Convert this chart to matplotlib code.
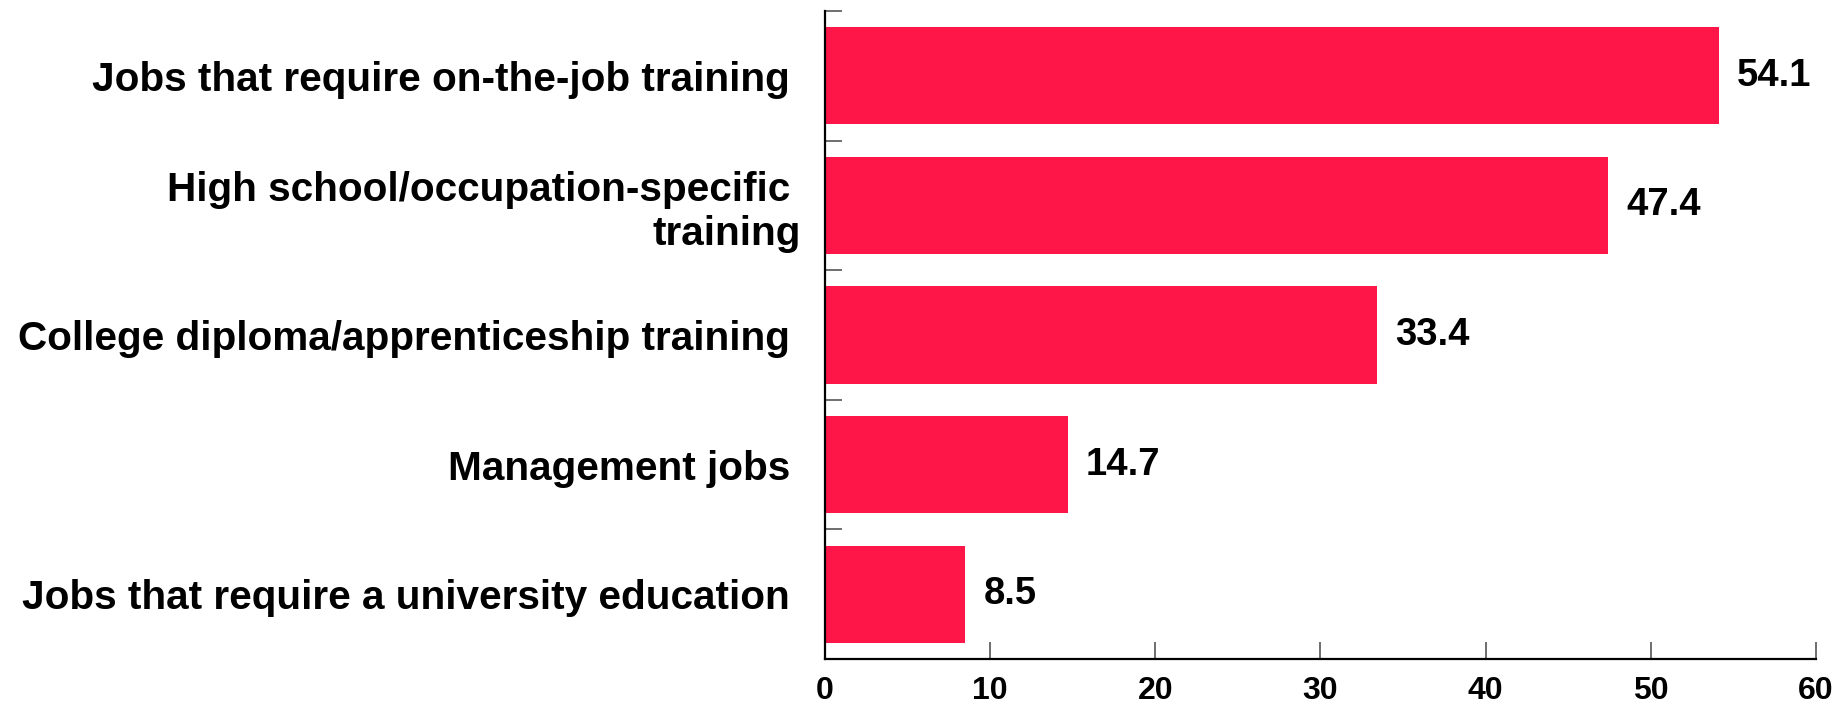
import matplotlib
matplotlib.use("Agg")
import matplotlib.pyplot as plt
import numpy as np

categories = [
    "Jobs that require on-the-job training ",
    "High school/occupation-specific \ntraining",
    "College diploma/apprenticeship training ",
    "Management jobs ",
    "Jobs that require a university education ",
]
values = [54.1, 47.4, 33.4, 14.7, 8.5]
xticks = [0, 10, 20, 30, 40, 50, 60]

plt.rcParams['font.family'] = ['Liberation Sans', 'DejaVu Sans']
plt.rcParams['font.weight'] = 'bold'

fig = plt.figure(figsize=(18.37, 7.05), dpi=100)
ax = fig.add_axes([0.449, 0.0652, 0.5396, 0.9192])

y = np.arange(len(categories))
color = '#FF1648'
ax.barh(y, values, height=0.75, color=color, zorder=2)
ax.set_ylim(len(categories) - 0.5, -0.5)
ax.set_xlim(0, 60)

for yi, v in zip(y, values):
    ax.annotate(f"{v}", xy=(v, yi), xytext=(13, 0), textcoords='offset points',
                ha='left', va='center', fontsize=27.5, fontweight='bold', color='black')

ax.set_yticks(y)
ax.set_yticklabels(categories, fontsize=29.2, fontweight='bold', ha='right',
                   multialignment='right')
ax.tick_params(axis='y', which='major', length=0, pad=17)
ax.set_yticks(np.arange(-0.5, len(categories), 1.0), minor=True)
ax.tick_params(axis='y', which='minor', direction='in', length=12, width=1.2, color='#555555')

ax.set_xticks(xticks)
ax.set_xticklabels([str(t) for t in xticks], fontsize=23, fontweight='bold')
ax.tick_params(axis='x', direction='in', length=12, width=1.2, color='#555555', pad=12)

for s in ['top', 'right']:
    ax.spines[s].set_visible(False)
for s in ['left', 'bottom']:
    ax.spines[s].set_linewidth(1.6)
    ax.spines[s].set_color('black')

fig.savefig("out.png", dpi=100)
